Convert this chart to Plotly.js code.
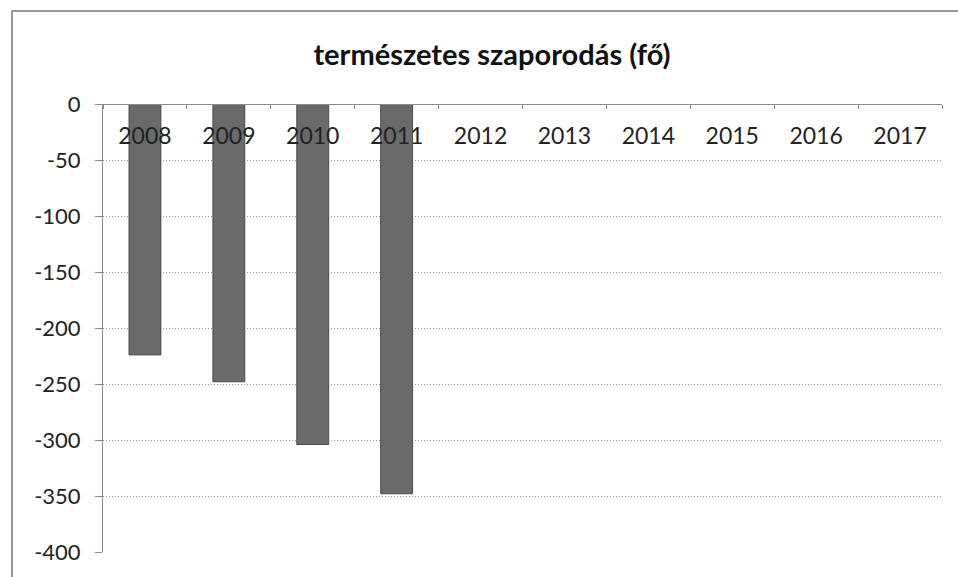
<!DOCTYPE html>
<html>
<head>
<meta charset="utf-8">
<script src="https://cdn.plot.ly/plotly-3.0.1.min.js"></script>
<style>html,body{margin:0;padding:0;background:#fff;}#chart{width:958px;height:577px;}</style>
</head>
<body>
<div id="chart"></div>
<script>
const years = ['2008','2009','2010','2011','2012','2013','2014','2015','2016','2017'];
const natural_increase = [-224, -248, -304, -348, null, null, null, null, null, null];
const yTickVals = [0, -50, -100, -150, -200, -250, -300, -350, -400];
const chartTitle = 'természetes szaporodás (fő)';

const FONT = 'Lato, "Open Sans", sans-serif';

const trace = {
  type: 'bar',
  x: years,
  y: natural_increase,
  marker: {color: '#6a6a6a', line: {color: '#4a4a4a', width: 1}},
  hoverinfo: 'x+y'
};

const layout = {
  width: 958, height: 577,
  margin: {l: 103, r: 16, t: 104, b: 25},
  paper_bgcolor: '#ffffff', plot_bgcolor: '#ffffff',
  bargap: 0.62,
  showlegend: false,
  title: {
    text: chartTitle,
    font: {family: FONT, size: 29, color: '#111', weight: 'bold'},
    xref: 'paper', x: 0.4636, xanchor: 'center',
    yref: 'container', y: 0.905, yanchor: 'middle'
  },
  xaxis: {
    type: 'category',
    anchor: 'free', position: 1, side: 'bottom',
    showline: true, linecolor: '#8a8a8a', linewidth: 1,
    ticks: 'outside', ticklen: 4, tickcolor: '#8a8a8a', tickson: 'boundaries',
    ticklabelstandoff: 11,
    tickfont: {family: FONT, size: 23, color: '#222'},
    showgrid: false, zeroline: false,
    range: [-0.5, 9.5]
  },
  yaxis: {
    range: [-400, 0],
    tickvals: yTickVals,
    ticktext: yTickVals.map(String),
    showline: true, linecolor: '#8a8a8a', linewidth: 1,
    ticks: 'outside', ticklen: 7, tickcolor: '#8a8a8a',
    ticklabelstandoff: 10,
    tickfont: {family: FONT, size: 22, color: '#222'},
    showgrid: true, gridcolor: '#8f8f8f', griddash: '1px,2px', gridwidth: 1,
    zeroline: false
  },
  shapes: [{
    type: 'rect', xref: 'paper', yref: 'paper',
    x0: -0.1085, x1: 1.2, y0: -0.3, y1: 1.2076,
    line: {color: '#777', width: 1.5}, fillcolor: 'rgba(0,0,0,0)', layer: 'below'
  }]
};

Plotly.newPlot('chart', [trace], layout, {displayModeBar: false, staticPlot: true});
</script>
</body>
</html>
